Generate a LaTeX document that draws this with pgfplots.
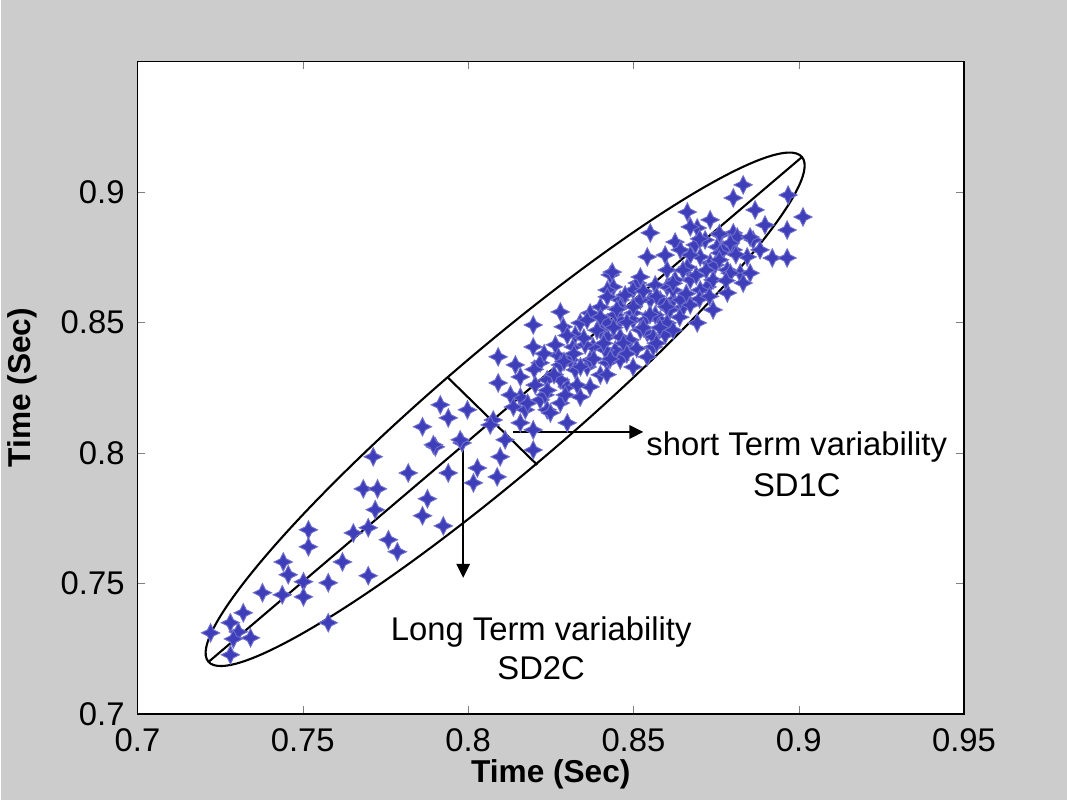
\documentclass[border=0pt]{standalone}
\usepackage{fontspec}
\setmainfont{Liberation Sans}
\usepackage{pgfplots}
\pgfplotsset{compat=1.18}
\usetikzlibrary{arrows.meta}

\definecolor{bggray}{RGB}{204,204,204}
\definecolor{dotblue}{RGB}{62,62,186}

% four-pointed star marker
\pgfdeclareplotmark{star4}{%
  \pgfpathmoveto{\pgfqpoint{0pt}{\pgfplotmarksize}}%
  \pgfpathlineto{\pgfqpoint{0.33\pgfplotmarksize}{0.33\pgfplotmarksize}}%
  \pgfpathlineto{\pgfqpoint{\pgfplotmarksize}{0pt}}%
  \pgfpathlineto{\pgfqpoint{0.33\pgfplotmarksize}{-0.33\pgfplotmarksize}}%
  \pgfpathlineto{\pgfqpoint{0pt}{-\pgfplotmarksize}}%
  \pgfpathlineto{\pgfqpoint{-0.33\pgfplotmarksize}{-0.33\pgfplotmarksize}}%
  \pgfpathlineto{\pgfqpoint{-\pgfplotmarksize}{0pt}}%
  \pgfpathlineto{\pgfqpoint{-0.33\pgfplotmarksize}{0.33\pgfplotmarksize}}%
  \pgfpathclose
  \pgfusepathqfillstroke
}

\pgfplotstableread{
x y
0.7713 0.7985
0.7901 0.8023
0.7982 0.8038
0.7819 0.7923
0.7940 0.7923
0.8028 0.7942
0.8016 0.7885
0.7683 0.7862
0.7726 0.7862
0.7877 0.7824
0.7719 0.7782
0.7862 0.7759
0.7925 0.7720
0.7517 0.7705
0.7653 0.7693
0.7698 0.7713
0.7759 0.7667
0.7517 0.7640
0.7786 0.7621
0.7441 0.7582
0.7620 0.7582
0.7456 0.7533
0.7502 0.7506
0.7577 0.7502
0.7698 0.7529
0.7378 0.7464
0.7438 0.7456
0.7502 0.7448
0.7320 0.7387
0.7281 0.7349
0.7221 0.7310
0.7305 0.7314
0.7342 0.7291
0.7290 0.7287
0.7577 0.7349
0.7281 0.7226
0.8091 0.8368
0.8197 0.8406
0.8091 0.8268
0.7916 0.8184
0.7998 0.8165
0.7940 0.8134
0.7862 0.8100
0.7976 0.8050
0.8076 0.8126
0.8067 0.8107
0.8097 0.7985
0.8088 0.7908
0.8158 0.8214
0.8218 0.8203
0.8239 0.8165
0.8158 0.8115
0.8197 0.8088
0.8197 0.8011
0.7895 0.8031
0.8197 0.8490
0.8279 0.8540
0.8288 0.8483
0.8339 0.8498
0.8158 0.8291
0.8218 0.8345
0.8270 0.8375
0.8318 0.8406
0.8239 0.8280
0.8300 0.8253
0.8137 0.8176
0.8249 0.8153
0.8300 0.8115
0.8360 0.8329
0.8378 0.8406
0.8421 0.8444
0.8400 0.8559
0.8460 0.8586
0.8499 0.8536
0.8542 0.8460
0.8560 0.8406
0.8469 0.8383
0.8421 0.8345
0.8369 0.8253
0.8499 0.8329
0.8542 0.8368
0.8581 0.8509
0.8620 0.8586
0.8602 0.8636
0.8512 0.8651
0.8439 0.8636
0.8339 0.8214
0.8279 0.8191
0.8832 0.9027
0.8802 0.8977
0.8968 0.8988
0.9013 0.8904
0.8965 0.8854
0.8920 0.8747
0.8965 0.8747
0.8663 0.8923
0.8732 0.8893
0.8693 0.8862
0.8551 0.8843
0.8626 0.8808
0.8542 0.8751
0.8802 0.8843
0.8862 0.8816
0.8753 0.8789
0.8802 0.8778
0.8844 0.8751
0.8430 0.8682
0.8521 0.8674
0.8602 0.8701
0.8663 0.8712
0.8732 0.8728
0.8784 0.8701
0.8823 0.8689
0.8672 0.8663
0.8723 0.8636
0.8832 0.8651
0.8784 0.8613
0.8741 0.8548
0.8620 0.8624
0.8651 0.8559
0.8581 0.8586
0.8499 0.8624
0.8460 0.8559
0.8421 0.8624
0.8499 0.8509
0.8602 0.8498
0.8560 0.8444
0.8421 0.8498
0.8460 0.8444
0.8693 0.8498
0.8672 0.8866
0.8436 0.8693
0.8369 0.8536
0.8421 0.8598
0.8702 0.8751
0.8771 0.8778
0.8814 0.8827
0.8853 0.8827
0.8793 0.8804
0.8762 0.8766
0.8853 0.8689
0.8793 0.8689
0.8741 0.8663
0.8360 0.8509
0.8279 0.8280
0.8324 0.8318
0.8400 0.8299
0.8445 0.8394
0.8490 0.8433
0.8536 0.8509
0.8566 0.8529
0.8611 0.8548
0.8642 0.8586
0.8702 0.8624
0.8747 0.8720
0.8324 0.8452
0.8354 0.8414
0.8400 0.8471
0.8279 0.8337
0.8233 0.8222
0.8264 0.8414
0.8309 0.8356
0.8460 0.8509
0.8551 0.8586
0.8596 0.8758
0.8642 0.8778
0.8687 0.8797
0.8883 0.8778
0.8898 0.8873
0.8868 0.8931
0.8762 0.8835
0.8717 0.8816
0.8672 0.8758
0.8626 0.8663
0.8566 0.8643
0.8521 0.8586
0.8475 0.8605
0.8445 0.8529
0.8415 0.8394
0.8369 0.8356
0.8294 0.8222
0.8203 0.8260
0.8173 0.8165
0.8128 0.8222
0.8143 0.8337
0.8112 0.8050
0.8460 0.8356
0.8521 0.8471
0.8596 0.8452
0.8672 0.8567
0.8260 0.8300
0.8290 0.8350
0.8320 0.8380
0.8340 0.8330
0.8350 0.8440
0.8380 0.8360
0.8390 0.8470
0.8410 0.8420
0.8430 0.8360
0.8440 0.8480
0.8450 0.8550
0.8470 0.8420
0.8480 0.8500
0.8500 0.8560
0.8510 0.8400
0.8530 0.8480
0.8550 0.8530
0.8570 0.8600
0.8580 0.8480
0.8600 0.8560
0.8620 0.8650
0.8640 0.8520
0.8660 0.8610
0.8690 0.8680
0.8700 0.8590
0.8720 0.8700
0.8760 0.8740
0.8780 0.8660
0.8810 0.8760
0.8240 0.8240
0.8200 0.8320
0.8180 0.8190
0.8230 0.8380
0.8300 0.8450
0.8330 0.8260
0.8400 0.8520
0.8420 0.8300
0.8480 0.8380
0.8530 0.8620
0.8570 0.8420
0.8620 0.8470
0.8650 0.8700
0.8730 0.8600
0.8700 0.8820
0.8760 0.8840
}\rrdata

\begin{document}
\begin{tikzpicture}
\fill[bggray] (-2.055cm,-1.29cm) rectangle (13.95cm,10.7125cm);
\begin{axis}[
  scale only axis,
  width=12.405cm, height=9.79cm,
  xmin=0.7, xmax=0.95, ymin=0.7, ymax=0.95,
  xtick={0.7,0.75,0.8,0.85,0.9,0.95},
  xticklabels={0.7,0.75,0.8,0.85,0.9,0.95},
  ytick={0.7,0.75,0.8,0.85,0.9},
  yticklabels={0.7,0.75,0.8,0.85,0.9},
  tick align=inside,
  major tick length=0.12cm,
  axis line style={line width=0.8pt},
  axis background/.style={fill=white},
  ticklabel style={font=\fontsize{14}{16}\selectfont},
  xticklabel style={yshift=-3pt},
  yticklabel style={xshift=-2pt},
  every axis x label/.style={at={(axis description cs:0.5,0)},yshift=-0.915cm,anchor=center},
  every axis y label/.style={at={(axis description cs:0,0.5)},xshift=-1.725cm,rotate=90,anchor=center},
  label style={font=\fontsize{13.5}{16}\selectfont\bfseries},
  xlabel={Time (Sec)},
  ylabel={Time (Sec)},
]
\addplot[only marks, mark=star4, mark size=3.9pt,
  mark options={fill=dotblue, draw=dotblue!75, line width=0.4pt}] table[x=x,y=y] {\rrdata};

% ellipse with its axes
\draw[line width=0.9pt, rotate around={40.37:(axis cs:0.8112,0.8167)}]
  (axis cs:0.8112,0.8167) ellipse [x radius=5.847cm, y radius=0.927cm];
\draw[line width=0.9pt] (axis cs:0.7215,0.7199) -- (axis cs:0.9010,0.9134);
\draw[line width=0.9pt] (axis cs:0.7940,0.8287) -- (axis cs:0.8209,0.7954);
% arrows
\draw[line width=0.9pt, -{Triangle[length=2.1mm,width=2mm]}] (axis cs:0.8137,0.8080) -- (axis cs:0.8530,0.8080);
\draw[line width=0.9pt, -{Triangle[length=2.1mm,width=2mm]}] (axis cs:0.7985,0.8019) -- (axis cs:0.7985,0.7521);
% annotations
\node[font=\fontsize{14}{16}\selectfont] at (axis cs:0.8994,0.8023) {short Term variability};
\node[font=\fontsize{14}{16}\selectfont] at (axis cs:0.8994,0.7877) {SD1C};
\node[font=\fontsize{14}{16}\selectfont] at (axis cs:0.8221,0.7314) {Long Term variability};
\node[font=\fontsize{14}{16}\selectfont] at (axis cs:0.8221,0.7176) {SD2C};
\end{axis}
\end{tikzpicture}
\end{document}
